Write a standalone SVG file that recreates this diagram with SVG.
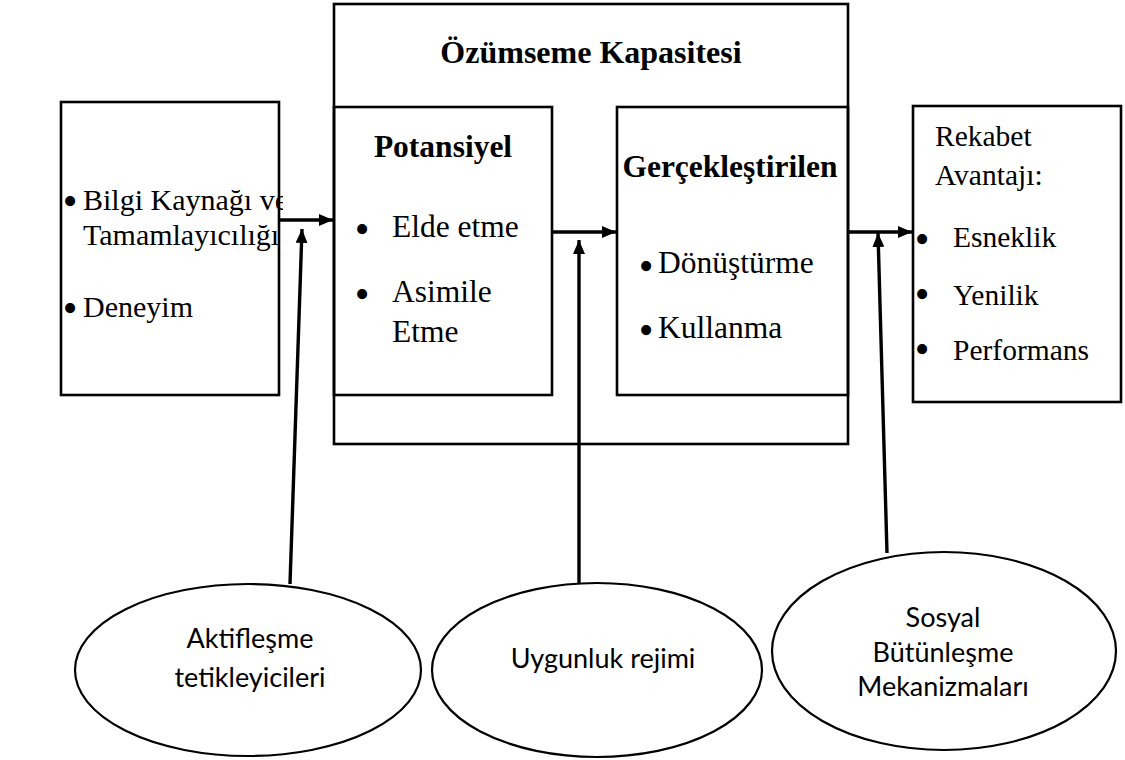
<svg xmlns="http://www.w3.org/2000/svg" width="1125" height="760" viewBox="0 0 1125 760">
  <defs>
    <style>
      .box { fill: none; stroke: #000; stroke-width: 2.6; }
      .ell { fill: #fff; stroke: #000; stroke-width: 2.2; }
      .con { fill: none; stroke: #000; stroke-width: 3.4; }
      .serif { font-family: "Liberation Serif", "Times New Roman", serif; fill: #000; }
      .t30 { font-size: 30px; }
      .t31 { font-size: 31.5px; }
      .t29 { font-size: 29.5px; }
      .title { font-size: 32px; font-weight: bold; text-anchor: middle; }
      .head { font-size: 31.5px; font-weight: bold; text-anchor: middle; }
      .bul { font-family: "Liberation Serif", "Times New Roman", serif; font-size: 42px; text-anchor: middle; fill: #000; }
      .sans { font-family: Lato, "Open Sans", "Liberation Sans", sans-serif; font-size: 27px; fill: #000; text-anchor: middle; }
    </style>
    <marker id="ah" viewBox="0 0 14 12" refX="14" refY="6" markerWidth="14" markerHeight="12" markerUnits="userSpaceOnUse" orient="auto">
      <path d="M0,0 L14,6 L0,12 Z" fill="#000"/>
    </marker>
    <clipPath id="clipLeft">
      <rect x="55" y="95" width="228" height="310"/>
    </clipPath>
  </defs>
  <rect width="1125" height="760" fill="#fff"/>

  <g id="node-kaynak">
    <rect class="box" x="61" y="102" width="218" height="293"/>
    <g clip-path="url(#clipLeft)">
      <text class="bul" x="70" y="215">•</text>
      <text class="serif t30" x="83" y="210">Bilgi Kaynağı ve</text>
      <text class="serif t30" x="83" y="245">Tamamlayıcılığı</text>
      <text class="bul" x="70" y="322">•</text>
      <text class="serif t30" x="83" y="317">Deneyim</text>
    </g>
  </g>

  <g id="node-ozumseme">
    <rect class="box" x="334" y="4" width="514" height="440"/>
    <text class="serif title" x="591" y="63">Özümseme Kapasitesi</text>
  </g>

  <g id="node-potansiyel">
    <rect class="box" x="334" y="107" width="218" height="288"/>
    <text class="serif head" x="443" y="157">Potansiyel</text>
    <text class="bul" x="362" y="243">•</text>
    <text class="serif t31" x="392" y="237">Elde etme</text>
    <text class="bul" x="362" y="308">•</text>
    <text class="serif t31" x="392" y="302">Asimile</text>
    <text class="serif t31" x="392" y="342">Etme</text>
  </g>

  <g id="node-gerceklestirilen">
    <rect class="box" x="617" y="107" width="231" height="288"/>
    <text class="serif head" x="730" y="177">Gerçekleştirilen</text>
    <text class="bul" x="646" y="280">•</text>
    <text class="serif t31" x="658" y="273">Dönüştürme</text>
    <text class="bul" x="646" y="344">•</text>
    <text class="serif t31" x="658" y="338">Kullanma</text>
  </g>

  <g id="node-rekabet">
    <rect class="box" x="913" y="106" width="208" height="296"/>
    <text class="serif t29" x="935" y="146">Rekabet</text>
    <text class="serif t29" x="935" y="185">Avantajı:</text>
    <text class="bul" x="922" y="253">•</text>
    <text class="serif t29" x="953" y="247">Esneklik</text>
    <text class="bul" x="922" y="308">•</text>
    <text class="serif t29" x="953" y="305">Yenilik</text>
    <text class="bul" x="922" y="363">•</text>
    <text class="serif t29" x="953" y="360">Performans</text>
  </g>

  <g id="connectors">
    <line class="con" x1="279" y1="220" x2="333" y2="220" marker-end="url(#ah)"/>
    <line class="con" x1="552" y1="232" x2="616" y2="232" marker-end="url(#ah)"/>
    <line class="con" x1="848" y1="232" x2="912" y2="232" marker-end="url(#ah)"/>
    <line class="con" x1="290" y1="584" x2="302" y2="229" marker-end="url(#ah)"/>
    <line class="con" x1="579" y1="584" x2="579" y2="240" marker-end="url(#ah)"/>
    <line class="con" x1="887" y1="553" x2="878" y2="233" marker-end="url(#ah)"/>
  </g>

  <g id="node-aktiflesme">
    <ellipse class="ell" cx="248" cy="670" rx="173" ry="86"/>
    <text class="sans" x="250" y="648">Aktifleşme</text>
    <text class="sans" x="250" y="687">tetikleyicileri</text>
  </g>

  <g id="node-uygunluk">
    <ellipse class="ell" cx="597" cy="670" rx="165" ry="87"/>
    <text class="sans" x="603" y="668">Uygunluk rejimi</text>
  </g>

  <g id="node-sosyal">
    <ellipse class="ell" cx="944" cy="651" rx="172" ry="99"/>
    <text class="sans" x="943" y="627">Sosyal</text>
    <text class="sans" x="943" y="662">Bütünleşme</text>
    <text class="sans" x="943" y="696">Mekanizmaları</text>
  </g>
</svg>
